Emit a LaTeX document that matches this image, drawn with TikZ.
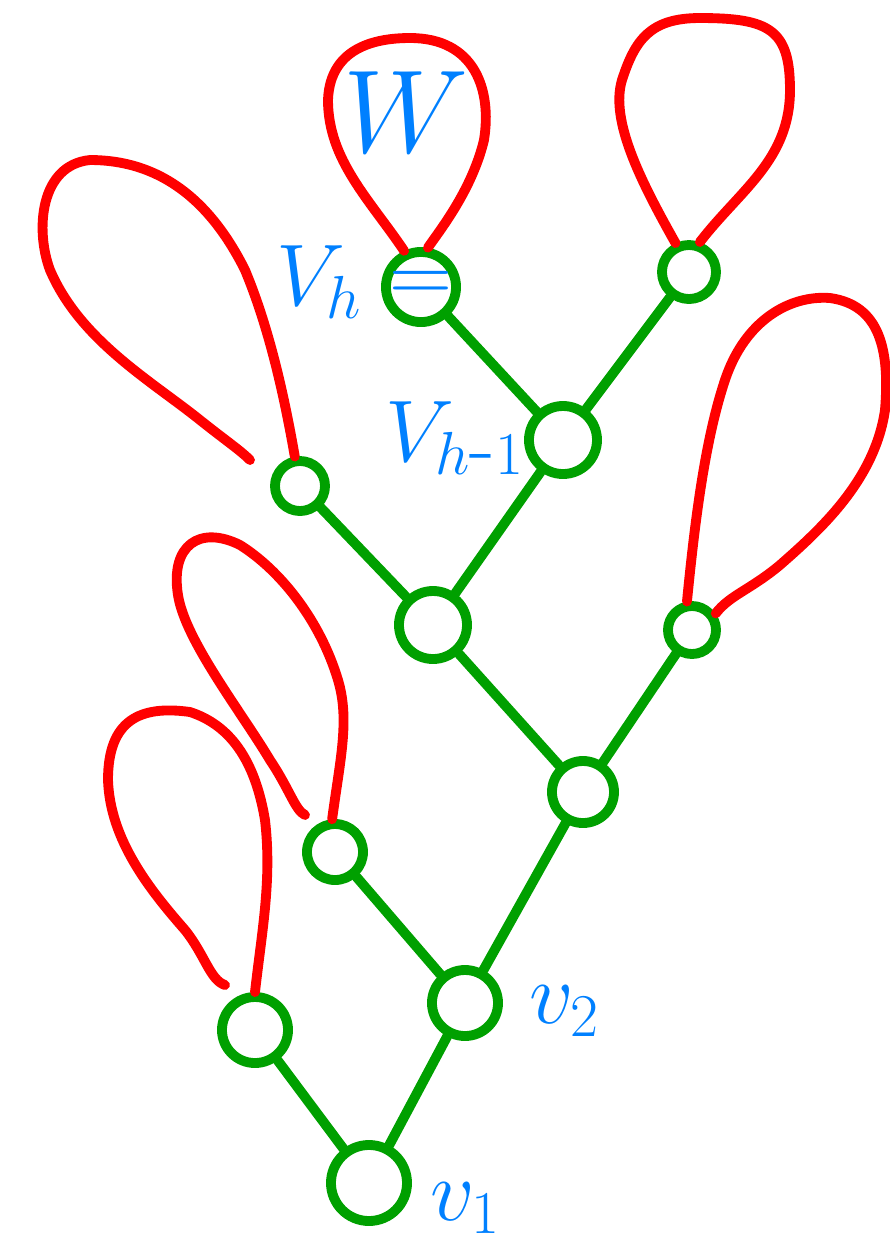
\documentclass[tikz,border=0pt]{standalone}
\usepackage{tikz}
\usetikzlibrary{positioning,calc}
\definecolor{tgreen}{RGB}{0,160,0}
\definecolor{tred}{RGB}{255,0,0}
\definecolor{tblue}{RGB}{0,128,255}

\begin{document}
\begin{tikzpicture}[
  x=0.01cm, y=-0.01cm,
  line cap=round, line join=round,
  vtx/.style={circle,draw=tgreen,line width=2.8pt,inner sep=0pt,text=tblue},
  edge/.style={draw=tgreen,line width=2.8pt},
  loopline/.style={draw=tred,line width=2.8pt},
  lbl/.style={text=tblue,font=\fontsize{24}{28}\selectfont}
]
\useasboundingbox (0,0) rectangle (890,1250);

% 木の頂点
\node[vtx,minimum size=0.76cm] (v1)  at (369,1183) {};
\node[vtx,minimum size=0.66cm] (v2)  at (465,1003) {};
\node[vtx,minimum size=0.66cm] (a)   at (255,1030) {};
\node[vtx,minimum size=0.56cm] (b)   at (335,852)  {};
\node[vtx,minimum size=0.62cm] (c)   at (583,792)  {};
\node[vtx,minimum size=0.68cm] (d)   at (433,625)  {};
\node[vtx,minimum size=0.48cm] (e)   at (692,630)  {};
\node[vtx,minimum size=0.50cm] (f)   at (300,486)  {};
\node[vtx,minimum size=0.68cm] (vh1) at (563,440)  {};
\node[vtx,minimum size=0.64cm,font=\fontsize{24}{28}\selectfont\bfseries] (vh) at (421,287) {$=$};
\node[vtx,minimum size=0.54cm] (g)   at (689,272)  {};

% 辺
\foreach \p/\q in {v1/v2,v1/a,v2/b,v2/c,c/d,c/e,d/f,d/vh1,vh1/vh,vh1/g}
  \draw[edge] (\p) -- (\q);

% 赤いループ
\draw[loopline] (vh.115) .. controls (370,200) and (328,160) .. (328,100)
  .. controls (330,45) and (380,38) .. (410,38)
  .. controls (475,38) and (492,90) .. (484,140)
  .. controls (472,190) and (440,230) .. (vh.80);
\draw[loopline] (g.115) .. controls (640,180) and (610,120) .. (622,80)
  .. controls (635,40) and (650,18) .. (700,18)
  .. controls (770,18) and (790,30) .. (790,90)
  .. controls (790,160) and (740,190) .. (g.70);
\draw[loopline] (f.100) .. controls (285,400) and (270,330) .. (245,270)
  .. controls (210,200) and (160,160) .. (90,160)
  .. controls (40,165) and (35,230) .. (50,270)
  .. controls (80,340) and (150,380) .. (200,420)
  .. controls (225,440) and (240,450) .. (250,460);
\draw[loopline] (e.100) .. controls (695,520) and (705,440) .. (725,380)
  .. controls (745,320) and (790,295) .. (830,298)
  .. controls (880,305) and (890,350) .. (885,410)
  .. controls (875,480) and (820,530) .. (780,565)
  .. controls (750,590) and (730,595) .. (e.35);
\draw[loopline] (b.95) .. controls (340,760) and (350,720) .. (338,680)
  .. controls (320,620) and (280,570) .. (240,545)
  .. controls (200,525) and (170,545) .. (178,595)
  .. controls (185,640) and (240,710) .. (270,760)
  .. controls (290,790) and (295,810) .. (305,815);
\draw[loopline] (a.90) .. controls (262,930) and (272,880) .. (265,820)
  .. controls (255,760) and (230,725) .. (190,712)
  .. controls (140,705) and (108,720) .. (108,780)
  .. controls (110,840) and (150,890) .. (185,930)
  .. controls (205,955) and (210,980) .. (225,985);

% ラベル
\node[lbl,scale=1.35] (lw) at (406,112) {$W$};
\node[lbl,left=0.06cm of vh,yshift=0.05cm] (lvh) {$V_h$};
\node[lbl] (lvh1) at (455,438) {$V_{h\mbox{-}1}$};
\node[lbl,right=0.14cm of v2,yshift=-0.08cm] (lv2) {$v_2$};
\node[lbl,right=0.06cm of v1,yshift=-0.25cm] (lv1) {$v_1$};
\end{tikzpicture}
\end{document}
